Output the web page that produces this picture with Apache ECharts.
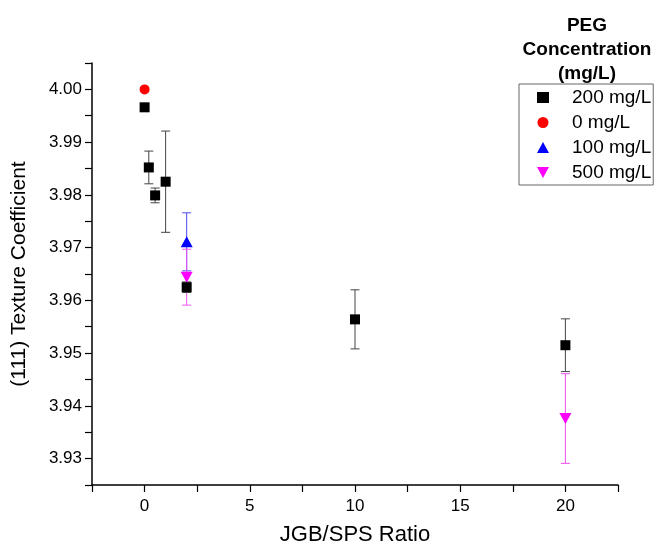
<!DOCTYPE html>
<html>
<head>
<meta charset="utf-8">
<script src="https://cdn.jsdelivr.net/npm/echarts@6/dist/echarts.min.js"></script>
<style>
  html, body { margin: 0; padding: 0; background: #fff; }
  #chart { width: 657px; height: 551px; }
</style>
</head>
<body>
<div id="chart"></div>
<script>
// JGB/SPS ratio vs (111) texture coefficient, one group per PEG concentration
const ratio200 = [0, 0.2, 0.5, 1, 2, 10, 20]
const tc200 = [3.9966, 3.9852, 3.9799, 3.9825, 3.9625, 3.9564, 3.9515]
const err200 = [0, 0.0031, 0.0014, 0.0096, 0.0010, 0.0056, 0.0050]

const ratio0 = [0]
const tc0 = [4.000]
const err0 = [0]

const ratio100 = [2]
const tc100 = [3.9711]
const err100 = [0.0055]

const ratio500 = [2, 20]
const tc500 = [3.9644, 3.9376]
const err500 = [0.0053, 0.0085]

const legendNames = ['200 mg/L', '0 mg/L', '100 mg/L', '500 mg/L']

const font = 'Liberation Sans, Arial, sans-serif'

function points(xs, ys) {
    return xs.map((x, i) => [x, ys[i]])
}

function errRows(xs, ys, es) {
    return xs.map((x, i) => [x, ys[i] - es[i], ys[i] + es[i]]).filter((r, i) => es[i] > 0)
}

function errorBar(rows, color, z) {
    return {
        type: 'custom',
        data: rows,
        z: z,
        silent: true,
        encode: { x: 0, y: [1, 2] },
        renderItem(params, api) {
            const lo = api.coord([api.value(0), api.value(1)])
            const hi = api.coord([api.value(0), api.value(2)])
            const w = 4.5
            const style = { stroke: color, lineWidth: 1 }
            return {
                type: 'group',
                children: [
                    { type: 'line', shape: { x1: lo[0], y1: lo[1], x2: hi[0], y2: hi[1] }, style },
                    { type: 'line', shape: { x1: lo[0] - w, y1: lo[1], x2: lo[0] + w, y2: lo[1] }, style },
                    { type: 'line', shape: { x1: hi[0] - w, y1: hi[1], x2: hi[0] + w, y2: hi[1] }, style },
                ],
            }
        },
    }
}

const chart = echarts.init(document.getElementById('chart'))

chart.setOption({
    animation: false,
    textStyle: { fontFamily: font },
    grid: { left: 92, right: 39, top: 63, bottom: 64 },
    graphic: [
        {
            type: 'text',
            x: 587,
            y: 14,
            style: {
                text: 'PEG\nConcentration\n(mg/L)',
                align: 'center',
                verticalAlign: 'top',
                font: 'bold 19px ' + font,
                lineHeight: 24,
                fill: '#000',
            },
        },
    ],
    legend: {
        data: legendNames,
        orient: 'vertical',
        left: 519,
        top: 84,
        padding: [4, 2, 3, 18],
        itemGap: 6,
        itemWidth: 12,
        itemHeight: 11,
        borderColor: '#666',
        borderWidth: 1,
        borderRadius: 0,
        textStyle: { fontSize: 19, color: '#000', fontFamily: font, padding: [0, 0, 0, 18] },
    },
    xAxis: {
        type: 'value',
        min: -2.5,
        max: 22.5,
        interval: 2.5,
        name: 'JGB/SPS Ratio',
        nameLocation: 'middle',
        nameGap: 39,
        nameTextStyle: { fontSize: 22, color: '#000' },
        axisLine: { onZero: false, lineStyle: { color: '#000', width: 1.5 } },
        axisTick: { length: 7, lineStyle: { color: '#000', width: 1.2 } },
        axisLabel: {
            fontSize: 17,
            color: '#000',
            margin: 13,
            formatter: v => (Math.abs(v % 5) < 1e-9 ? String(v) : ''),
        },
        splitLine: { show: false },
    },
    yAxis: {
        type: 'value',
        min: 3.925,
        max: 4.005,
        interval: 0.005,
        name: '(111) Texture Coefficient',
        nameLocation: 'middle',
        nameGap: 62,
        nameTextStyle: { fontSize: 21, color: '#000' },
        axisLine: { show: true, onZero: false, lineStyle: { color: '#000', width: 1.5 } },
        axisTick: { show: true, length: 7, lineStyle: { color: '#000', width: 1.2 } },
        axisLabel: {
            fontSize: 17,
            color: '#000',
            margin: 10,
            formatter: v => (Math.round(v * 1000) % 10 === 0 ? v.toFixed(2) : ''),
        },
        splitLine: { show: false },
    },
    series: [
        errorBar(errRows(ratio100, tc100, err100), '#4a4aee', 2),
        errorBar(errRows(ratio500, tc500, err500), '#f050f0', 2),
        errorBar(errRows(ratio200, tc200, err200), '#444', 3),
        errorBar(errRows(ratio0, tc0, err0), '#ff0000', 2),
        {
            name: '500 mg/L',
            type: 'scatter',
            data: points(ratio500, tc500),
            symbol: 'path://M0,0 L10,0 L5,9 Z',
            symbolSize: [12, 11],
            itemStyle: { color: '#ff00ff', opacity: 1 },
            z: 4,
        },
        {
            name: '100 mg/L',
            type: 'scatter',
            data: points(ratio100, tc100),
            symbol: 'triangle',
            symbolSize: [12, 11],
            itemStyle: { color: '#0000ff', opacity: 1 },
            z: 4,
        },
        {
            name: '0 mg/L',
            type: 'scatter',
            data: points(ratio0, tc0),
            symbol: 'circle',
            symbolSize: 10,
            itemStyle: { color: '#ff0000', opacity: 1 },
            z: 4,
        },
        {
            name: '200 mg/L',
            type: 'scatter',
            data: points(ratio200, tc200),
            symbol: 'rect',
            symbolSize: 10,
            itemStyle: { color: '#000', opacity: 1 },
            z: 5,
        },
    ],
})
</script>
</body>
</html>
